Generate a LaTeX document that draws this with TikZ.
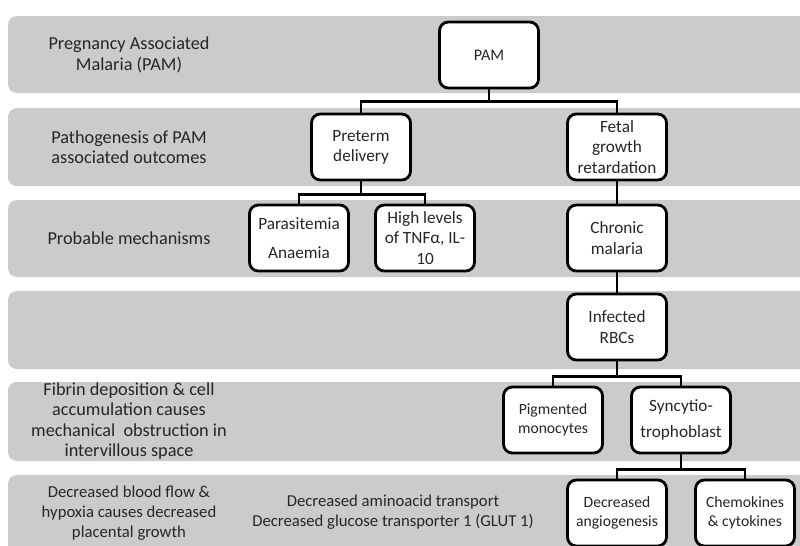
\documentclass[tikz,border=0pt]{standalone}
\usepackage{fontspec}
\setmainfont{Carlito}
\definecolor{bandgray}{HTML}{CBCBCB}
\definecolor{txtgray}{HTML}{262626}

\begin{document}
\begin{tikzpicture}[x=0.02cm, y=-0.02cm,
    band/.style={fill=bandgray, draw=none, rounded corners=5pt},
    box/.style={rectangle, draw=black, line width=1.6pt, fill=white,
        rounded corners=5pt, minimum width=1.98cm, minimum height=1.32cm,
        inner sep=2pt, align=center, text=txtgray,
        font=\fontsize{9.8}{11.5}\selectfont},
    smallbox/.style={box, font=\fontsize{8.9}{10.8}\selectfont},
    label/.style={align=center, text=txtgray,
        font=\fontsize{10.4}{11.6}\selectfont},
    smalllabel/.style={label, font=\fontsize{9.5}{11.2}\selectfont},
    edge/.style={line width=1.4pt, -}
]
    \useasboundingbox (0,0) rectangle (800,545);
    \clip (0,0) rectangle (800,545);
    % bands
    \fill[band] (8,16) rectangle (815,93);
    \fill[band] (8,108) rectangle (815,186);
    \fill[band] (8,200) rectangle (815,277);
    \fill[band] (8,291) rectangle (815,369);
    \fill[band] (8,382) rectangle (815,461);
    \fill[band] (8,475) rectangle (815,560);
    % row labels
    \node[label] (l1) at (129,55) {Pregnancy Associated\\Malaria (PAM)};
    \node[label] (l2) at (129,147) {Pathogenesis of PAM\\associated outcomes};
    \node[label] (l3) at (129,238) {Probable mechanisms};
    \node[label] (l5) at (129,421) {Fibrin deposition \& cell\\accumulation causes\\mechanical\ \ obstruction in\\intervillous space};
    \node[smalllabel] (l6) at (129,513) {Decreased blood flow \&\\hypoxia causes decreased\\placental growth};
    \node[smalllabel] (gl) at (393,512) {Decreased aminoacid transport\\Decreased glucose transporter 1 (GLUT 1)};
    % boxes
    \node[box, font=\fontsize{9.2}{11}\selectfont] (pam) at (489,55) {PAM};
    \node[box] (pre) at (361,147) {Preterm\\delivery};
    \node[box] (fgr) at (617,147) {Fetal\\growth\\retardation};
    \node[box] (par) at (299,238) {Parasitemia\\[5pt]Anaemia};
    \node[box] (tnf) at (425,238) {High levels\\of TNFα, IL-\\10};
    \node[box] (chr) at (617,238) {Chronic\\malaria};
    \node[box] (rbc) at (617,327) {Infected\\RBCs};
    \node[smallbox] (mon) at (553,420) {Pigmented\\monocytes};
    \node[box] (syn) at (681,420) {Syncytio-\\[3pt]trophoblast};
    \node[smallbox] (ang) at (617,513) {Decreased\\angiogenesis};
    \node[smallbox] (che) at (745,513) {Chemokines\\\& cytokines};
    % connectors
    \draw[edge] (pam.south) -- ++(0,12) -| (pre.north);
    \draw[edge] (pam.south) -- ++(0,12) -| (fgr.north);
    \draw[edge] (pre.south) -- ++(0,13) -| (par.north);
    \draw[edge] (pre.south) -- ++(0,13) -| (tnf.north);
    \draw[edge] (fgr) -- (chr);
    \draw[edge] (chr) -- (rbc);
    \draw[edge] (rbc.south) -- ++(0,15) -| (mon.north);
    \draw[edge] (rbc.south) -- ++(0,15) -| (syn.north);
    \draw[edge] (syn.south) -- ++(0,15) -| (ang.north);
    \draw[edge] (syn.south) -- ++(0,15) -| (che.north);
\end{tikzpicture}
\end{document}
